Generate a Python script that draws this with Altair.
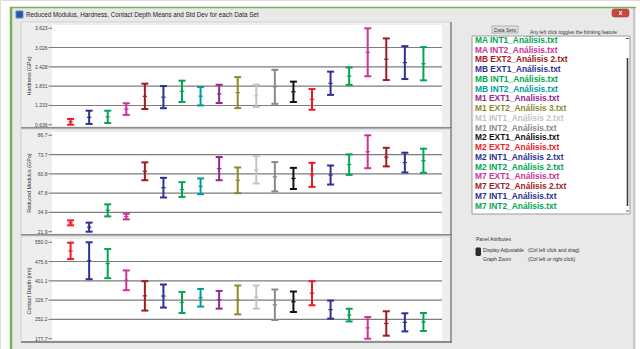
import altair as alt
import pandas as pd

# ---------------------------------------------------------------- data
set_names = [
    "MA EXT1_Análisis.txt", "MA EXT2_Análisis.txt",
    "MA INT1_Análisis.txt", "MA INT2_Análisis.txt",
    "MB EXT2_Análisis 2.txt", "MB EXT1_Análisis.txt",
    "MB INT1_Análisis.txt", "MB INT2_Análisis.txt",
    "M1 EXT1_Analisis.txt", "M1 EXT2_Análisis 3.txt",
    "M1 INT1_Análisis 2.txt", "M1 INT2_Análisis.txt",
    "M2 EXT1_Análisis.txt", "M2 EXT2_Análisis.txt",
    "M2 INT1_Análisis 2.txt", "M2 INT2_Análisis 2.txt",
    "M7 EXT1_Análisis.txt", "M7 EXT2_Análisis 2.txt",
    "M7 INT1_Análisis.txt", "M7 INT2_Análisis.txt",
]
set_colors = [
    "#ec1c24", "#2e3192", "#00a651", "#cc3399", "#9e1b20",
    "#2e3192", "#00a651", "#009b9b", "#93278f", "#8c8a2a",
    "#c4c4c4", "#8a8a8a", "#111111", "#ec1c24", "#2e3192",
    "#00a651", "#cc3399", "#9e1b20", "#2e3192", "#00a651",
]

hard_mean = [0.725, 0.865, 0.88, 1.12, 1.515, 1.49, 1.67, 1.52, 1.59, 1.63,
             1.53, 1.81, 1.655, 1.42, 1.92, 2.14, 2.88, 2.665, 2.56, 2.525]
hard_sd = [0.089, 0.205, 0.19, 0.18, 0.392, 0.343, 0.33, 0.287, 0.283, 0.48,
           0.348, 0.527, 0.315, 0.32, 0.36, 0.27, 0.743, 0.645, 0.51, 0.515]

mod_mean = [27.85, 24.95, 36.25, 32.1, 62.5, 51.5, 50.25, 52.4, 64.3, 56.45,
            63.5, 58.85, 57.7, 60.1, 60.0, 67.0, 75.65, 72.05, 68.35, 69.6]
mod_sd = [1.65, 3.05, 4.05, 1.9, 6.0, 6.6, 4.95, 5.3, 7.8, 8.65,
          9.2, 9.85, 7.1, 8.1, 6.4, 6.9, 11.05, 6.25, 6.65, 8.1]

depth_mean = [516.8, 478.8, 467.75, 403.2, 343.1, 342.5, 317.7, 335.9, 328.1, 327.4,
              338.55, 308.75, 320.4, 353.35, 290.1, 268.8, 219.5, 236.45, 240.85, 242.1]
depth_sd = [31.6, 71.2, 56.25, 38.2, 56.8, 44.6, 40.7, 34.1, 34.2, 55.8,
            44.65, 58.95, 39.5, 46.55, 34.9, 24.5, 41.8, 47.15, 34.95, 34.9]

hard_ticks = [0.636, 1.233, 1.831, 2.428, 3.026, 3.623]
hard_labels = ["0.636", "1.233", "1.831", "2.428", "3.026", "3.623"]
mod_ticks = [21.9, 34.9, 47.8, 60.8, 73.7, 86.7]
mod_labels = ["21.9", "34.9", "47.8", "60.8", "73.7", "86.7"]
depth_ticks = [177.7, 252.2, 326.7, 401.1, 475.6, 550.0]
depth_labels = ["177.7", "252.2", "326.7", "401.1", "475.6", "550.0"]

window_title = "Reduced Modulus, Hardness,  Contact Depth  Means and Std Dev for each Data Set"

# ---------------------------------------------------------------- layout
W, H = 640, 349
FONT = "Liberation Sans"
PLOT_X0, PLOT_X1 = 52, 442
ONE = pd.DataFrame({"k": [0]})
X_SCALE = alt.Scale(domain=[0, 21], range=[PLOT_X0, PLOT_X1], nice=False, zero=False)

layers = []


def box(x0, y0, x1, y1, fill, stroke=None, sw=1, radius=0):
    kw = dict(fill=fill, cornerRadius=radius)
    if stroke:
        kw.update(stroke=stroke, strokeWidth=sw)
    return alt.Chart(ONE).mark_rect(**kw).encode(
        x=alt.value(x0), x2=alt.value(x1), y=alt.value(y0), y2=alt.value(y1))


def line(x0, y0, x1, y1, color, w=1):
    return alt.Chart(ONE).mark_rule(color=color, strokeWidth=w).encode(
        x=alt.value(x0), x2=alt.value(x1), y=alt.value(y0), y2=alt.value(y1))


def label(x, y, txt, size, color="#333333", align="left", weight="normal", angle=0):
    return alt.Chart(ONE).mark_text(
        text=txt, fontSize=size, font=FONT, color=color, align=align,
        baseline="middle", fontWeight=weight, angle=angle,
    ).encode(x=alt.value(x), y=alt.value(y))


# window chrome
layers += [
    box(10, 7, 636, H + 2, "#e9e9e9"),
    line(11, 7, 11, H, "#74b35a", 2.5),
    line(10, 7.5, 636, 7.5, "#74b35a", 1.5),
    line(634, 8, 634, H, "#a8a8a8", 1),
    box(16, 11, 23, 18, "#2f4fa8", "#6b86c9", 1),
    label(26, 15, window_title, 6.3, "#222222"),
    box(612, 9, 629, 17, "#c9473e", "#9a3a33", 0.5, 2),
    label(620.5, 12.8, "x", 6.5, "white", "center", "bold"),
]


def panel(means, sds, ticks, tick_labels, title, top, bottom, title_y):
    """One error-bar panel: frame, gridlines, tick labels and mean ± sd bars."""
    y_top, y_bot = top + 6.3, bottom - 3.3
    y_scale = alt.Scale(domain=[ticks[0], ticks[-1]], range=[y_bot, y_top],
                        nice=False, zero=False)
    out = [
        box(21, top, 451, bottom, "#eeeeee"),
        line(21, top, 451, top, "#d2d2d2", 1),
        line(21, top, 21, bottom, "#cfcfcf", 1),
        line(21, bottom, 452, bottom, "#6c6c6c", 1.6),
        line(451, top, 451, bottom, "#7a7a7a", 1.4),
        box(PLOT_X0, top + 3, PLOT_X1, bottom - 2, "white"),
        label(29, title_y, title, 5.4, "#333333", "center", angle=270),
    ]
    tick_df = pd.DataFrame({"v": ticks, "lab": tick_labels})
    y_enc = alt.Y("v:Q", scale=y_scale, axis=None)
    out.append(
        alt.Chart(tick_df.iloc[1:-1]).mark_rule(color="#7d7d7d", strokeWidth=1.1)
        .encode(y=y_enc, x=alt.value(PLOT_X0), x2=alt.value(PLOT_X1)))
    out.append(
        alt.Chart(tick_df).mark_rule(color="#555555", strokeWidth=0.8)
        .encode(y=y_enc, x=alt.value(48.5), x2=alt.value(PLOT_X0)))
    out.append(
        alt.Chart(tick_df).mark_text(align="right", baseline="middle", fontSize=5,
                                     font=FONT, color="#444444")
        .encode(y=y_enc, x=alt.value(47.5), text="lab:N"))

    df = pd.DataFrame({
        "idx": list(range(1, len(means) + 1)),
        "mean": means,
        "sd": sds,
        "color": set_colors,
    })
    df["lo"] = df["mean"] - df["sd"]
    df["hi"] = df["mean"] + df["sd"]
    base = alt.Chart(df)
    x_enc = alt.X("idx:Q", scale=X_SCALE, axis=None)
    c_enc = alt.Color("color:N", scale=None)
    out.append(base.mark_rule(strokeWidth=2).encode(
        x=x_enc, y=alt.Y("lo:Q", scale=y_scale, axis=None), y2="hi:Q", color=c_enc))
    for fld in ("lo", "hi"):
        out.append(base.mark_rule(strokeWidth=2, xOffset=-3.5, x2Offset=3.5).encode(
            x=x_enc, x2="idx:Q", y=alt.Y(f"{fld}:Q", scale=y_scale, axis=None),
            color=c_enc))
    out.append(base.mark_rule(strokeWidth=1.2, xOffset=-2.2, x2Offset=2.2).encode(
        x=x_enc, x2="idx:Q", y=alt.Y("mean:Q", scale=y_scale, axis=None),
        color=c_enc))
    return out


layers += panel(hard_mean, hard_sd, hard_ticks, hard_labels,
                "Hardness (GPa)", 22, 128, 76)
layers += panel(mod_mean, mod_sd, mod_ticks, mod_labels,
                "Reduced Modulus (GPa)", 129, 235, 183)
layers += panel(depth_mean, depth_sd, depth_ticks, depth_labels,
                "Contact Depth (nm)", 236, 342, 291)

# data-set list on the right
layers += [
    box(492, 26, 518, 33, "#e2e2e2", "#8a8a8a", 0.6),
    label(505, 29.6, "Data Sets", 5, "#333333", "center"),
    label(530, 33.3, "Any left click toggles the blinking feature", 4.9, "#333333"),
    box(472, 36, 630, 214, "white", "#9c9c9c", 1),
    line(627.5, 58, 627.5, 206, "#3a3a3a", 1.6),
    line(626, 38.5, 629, 38.5, "#555555", 1),
    line(626, 211, 629, 211, "#555555", 1),
]
legend_df = pd.DataFrame({
    "row": list(range(len(set_names))),
    "name": set_names,
    "color": set_colors,
})
layers.append(
    alt.Chart(legend_df).transform_filter(alt.datum.row >= 2)
    .mark_text(align="left", baseline="middle", fontSize=8.4, font=FONT,
               fontWeight="bold")
    .encode(
        x=alt.value(475),
        y=alt.Y("row:Q", scale=alt.Scale(domain=[2, 19], range=[40, 205.5],
                                          nice=False, zero=False), axis=None),
        text="name:N",
        color=alt.Color("color:N", scale=None),
    ))

# panel attributes block
layers += [
    label(476, 239, "Panel Attributes", 5, "#333333"),
    box(475.5, 247.5, 481, 256, "#2b2b2b", radius=1.5),
    label(483, 250.2, "Display Adjustable", 5, "#333333"),
    label(528, 250.2, "(Ctrl left click and drag)", 5, "#333333"),
    label(483, 258.8, "Graph Zoom", 5, "#333333"),
    label(528, 258.8, "(Ctrl left or right click)", 5, "#333333"),
]

chart = (
    alt.layer(*layers)
    .resolve_scale(x="independent", y="independent", color="independent")
    .properties(width=W, height=H, padding=0,
                autosize=alt.AutoSizeParams(type="none"))
    .configure_view(stroke=None)
    .configure(background="white")
)

chart.save("out.html", embed_options={"renderer": "svg", "actions": False})
